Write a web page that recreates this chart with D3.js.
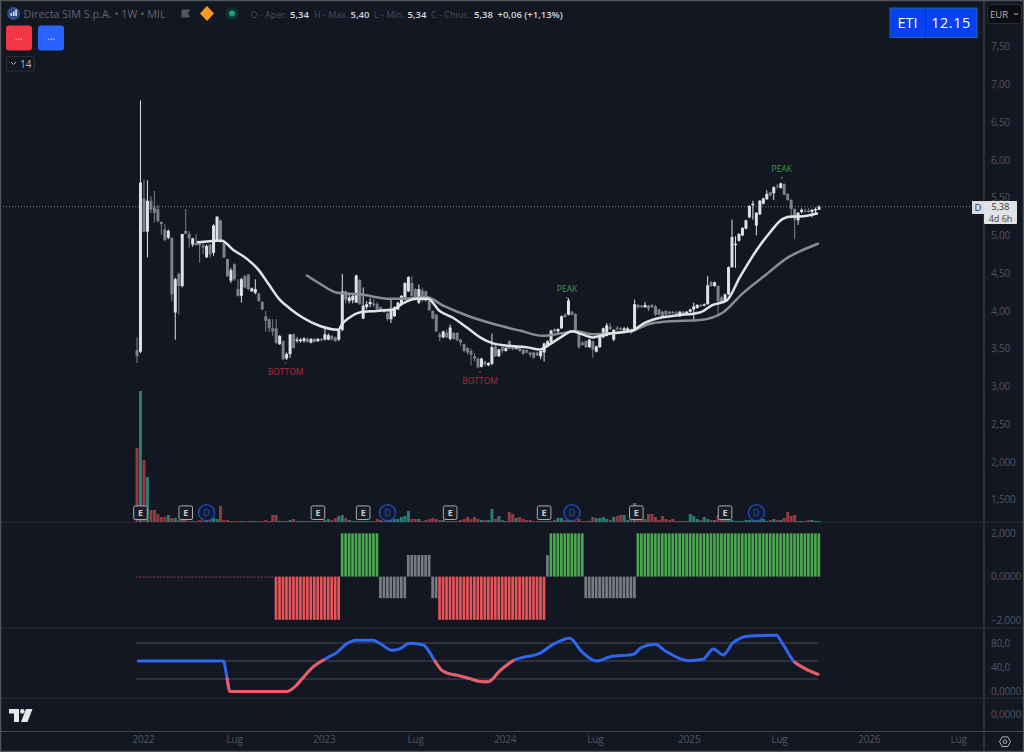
<!DOCTYPE html>
<html>
<head>
<meta charset="utf-8">
<title>Directa SIM S.p.A.</title>
<script src="https://cdn.jsdelivr.net/npm/d3@7"></script>
<style>
  html, body { margin: 0; padding: 0; background: #131722; }
  svg { display: block; }
  text { font-family: "Open Sans", "Noto Sans", sans-serif; }
  .axis path, .axis line { display: none; }
  .axis text { fill: #50545f; font-size: 10px; letter-spacing: -0.2px; font-family: "Open Sans", sans-serif; }
</style>
</head>
<body>
<div id="my_dataviz"></div>
<script>
  // weekly candles, one value per week from the first bar
  var opens = [
    3.48,3.46,5.49,5.05,5.46,5.37,5.35,5.18,5.08,4.97,
    4.97,3.98,4.49,4.33,5.06,5.02,4.88,4.90,4.90,4.87,
    4.71,4.88,4.77,4.93,5.20,4.90,4.69,4.40,4.62,4.29,
    4.20,4.46,4.48,4.26,4.24,4.23,4.12,3.93,3.89,3.77,
    3.77,3.56,3.60,3.37,3.43,3.69,3.60,3.60,3.60,3.63,
    3.58,3.63,3.60,3.63,3.62,3.62,3.67,3.65,3.62,3.75,
    4.26,4.13,4.14,4.11,4.41,3.90,4.05,4.09,4.10,4.09,
    4.05,4.00,3.97,3.89,3.93,4.02,4.09,4.18,4.26,4.37,
    4.29,4.11,4.27,4.26,4.13,4.00,3.95,3.69,3.65,3.71,
    3.63,3.71,3.71,3.62,3.56,3.51,3.47,3.40,3.37,3.26,
    3.33,3.28,3.30,3.53,3.40,3.52,3.47,3.60,3.53,3.50,
    3.51,3.49,3.48,3.45,3.45,3.45,3.40,3.45,3.53,3.59,
    3.76,3.73,3.77,3.95,3.95,3.99,3.96,3.69,3.58,3.60,
    3.52,3.60,3.46,3.52,3.65,3.67,3.79,3.62,3.78,3.77,
    3.74,3.74,3.76,3.76,4.08,4.07,4.05,4.07,4.08,4.06,
    4.02,3.99,4.00,3.99,3.99,3.98,3.93,3.99,3.96,3.99,
    4.02,4.04,4.08,4.07,4.09,4.38,4.33,4.33,4.18,4.13,
    4.22,4.58,4.87,4.93,5.00,5.09,5.24,5.40,5.13,5.28,
    5.42,5.48,5.57,5.56,5.66,5.63,5.68,5.55,5.47,5.35,
    5.20,5.31,5.33,5.33,5.31,5.33,5.34
  ];
  var highs = [
    3.65,6.79,5.74,5.73,5.52,5.59,5.41,5.18,5.15,5.08,
    4.97,4.44,4.51,5.02,5.35,5.06,4.97,5.02,4.92,4.90,
    4.88,4.89,5.15,5.25,5.21,4.93,4.69,4.57,4.63,4.42,
    4.44,4.48,4.49,4.31,4.42,4.24,4.13,4.00,3.90,3.89,
    3.89,3.68,3.61,3.45,3.69,3.70,3.65,3.64,3.65,3.65,
    3.64,3.64,3.64,3.64,3.76,3.70,3.68,3.66,3.76,4.49,
    4.27,4.22,4.24,4.48,4.42,4.31,4.13,4.17,4.16,4.12,
    4.06,4.03,3.98,4.17,4.06,4.12,4.21,4.38,4.46,4.46,
    4.30,4.35,4.31,4.27,4.15,4.01,3.96,3.72,3.74,3.75,
    3.82,3.72,3.72,3.63,3.57,3.52,3.50,3.44,3.38,3.38,
    3.34,3.32,3.70,3.55,3.50,3.53,3.52,3.61,3.54,3.54,
    3.52,3.50,3.49,3.46,3.46,3.46,3.47,3.58,3.61,3.75,
    3.77,3.77,3.94,3.97,4.17,4.00,3.97,3.72,3.60,3.61,
    3.63,3.61,3.54,3.68,3.78,3.84,3.84,3.76,3.80,3.79,
    3.79,3.79,3.77,4.15,4.09,4.08,4.12,4.08,4.09,4.08,
    4.03,4.00,4.01,4.00,4.00,4.00,4.00,4.00,4.00,4.03,
    4.11,4.09,4.09,4.10,4.46,4.40,4.39,4.34,4.20,4.23,
    4.59,5.21,4.99,5.03,5.11,5.21,5.40,5.46,5.31,5.47,
    5.50,5.60,5.58,5.65,5.68,5.70,5.69,5.56,5.48,5.36,
    5.31,5.36,5.36,5.36,5.35,5.37,5.40
  ];
  var lows = [
    3.31,3.44,5.04,4.71,5.30,5.17,5.17,5.01,4.92,4.95,
    4.13,3.62,3.95,4.31,5.02,4.84,4.85,4.87,4.64,4.75,
    4.70,4.71,4.73,4.92,4.90,4.70,4.45,4.37,4.40,4.19,
    4.11,4.30,4.27,4.25,4.22,4.12,4.01,3.73,3.72,3.67,
    3.56,3.55,3.35,3.35,3.38,3.50,3.58,3.58,3.58,3.58,
    3.57,3.58,3.59,3.60,3.61,3.61,3.61,3.59,3.60,3.73,
    4.10,4.10,4.10,4.11,4.08,3.89,4.02,4.05,4.05,4.00,
    4.00,3.98,3.87,3.84,3.92,4.01,4.08,4.17,4.25,4.18,
    4.17,4.09,4.12,4.12,4.00,3.89,3.72,3.60,3.64,3.64,
    3.61,3.62,3.60,3.54,3.45,3.42,3.28,3.33,3.24,3.25,
    3.27,3.27,3.28,3.39,3.39,3.44,3.46,3.49,3.48,3.49,
    3.46,3.42,3.44,3.39,3.37,3.40,3.36,3.33,3.52,3.58,
    3.72,3.70,3.76,3.91,3.94,3.94,3.72,3.50,3.54,3.51,
    3.51,3.38,3.45,3.51,3.64,3.66,3.75,3.60,3.74,3.74,
    3.73,3.73,3.69,3.73,4.03,4.04,4.04,4.00,4.04,3.93,
    3.94,3.92,3.94,3.95,3.96,3.95,3.92,3.95,3.95,3.98,
    3.86,4.03,4.05,4.06,4.08,4.32,4.32,3.95,4.10,4.12,
    4.21,4.57,4.57,4.92,4.99,5.08,5.23,5.21,5.00,5.27,
    5.41,5.47,5.52,5.47,5.62,5.62,5.53,5.46,5.22,4.95,
    5.14,5.29,5.30,5.30,5.24,5.28,5.34
  ];
  var closes = [
    3.40,5.70,5.05,5.46,5.34,5.30,5.19,5.15,4.94,5.06,
    4.22,4.42,4.33,5.02,5.02,4.96,4.96,4.87,4.87,4.84,
    4.86,4.75,5.13,5.25,4.93,4.71,4.46,4.54,4.42,4.20,
    4.42,4.31,4.29,4.30,4.29,4.13,4.02,3.87,3.77,3.73,
    3.58,3.67,3.36,3.43,3.69,3.51,3.62,3.62,3.64,3.59,
    3.63,3.59,3.63,3.61,3.69,3.68,3.62,3.60,3.75,4.26,
    4.15,4.18,4.20,4.47,4.09,4.07,4.09,4.12,4.08,4.02,
    4.01,4.02,3.89,4.02,4.05,4.11,4.20,4.37,4.45,4.20,
    4.18,4.29,4.14,4.13,4.01,3.90,3.73,3.65,3.73,3.65,
    3.78,3.63,3.61,3.58,3.47,3.45,3.42,3.37,3.25,3.37,
    3.29,3.31,3.52,3.40,3.49,3.47,3.51,3.50,3.49,3.53,
    3.47,3.43,3.45,3.42,3.38,3.41,3.47,3.57,3.60,3.74,
    3.73,3.76,3.93,3.92,4.14,3.95,3.73,3.52,3.55,3.52,
    3.62,3.49,3.53,3.67,3.77,3.81,3.76,3.75,3.76,3.75,
    3.77,3.77,3.71,4.09,4.05,4.05,4.08,4.03,4.05,3.95,
    3.95,3.93,3.95,3.96,3.97,3.96,3.99,3.96,3.99,4.02,
    4.06,4.08,4.06,4.09,4.34,4.33,4.38,4.13,4.11,4.22,
    4.58,4.98,4.89,5.02,5.10,5.20,5.39,5.42,5.30,5.46,
    5.49,5.55,5.53,5.64,5.65,5.69,5.54,5.47,5.35,5.21,
    5.30,5.34,5.32,5.31,5.34,5.35,5.38
  ];
  var volumes = [
    74,131,62,45,12,12,8,5,5,7,
    4,4,2,2,2,1,1,1,2,1,
    1,3,4,3,16,2,2,1,1,1,
    1,1,1,1,1,1,1,2,1,7,
    7,1,1,1,2,3,1,1,1,1,
    1,1,1,1,2,3,2,4,6,7,
    4,2,1,1,1,1,1,1,1,3,
    2,1,1,2,3,3,5,6,11,3,
    3,3,1,2,3,4,3,2,2,1,
    1,1,1,2,3,5,3,5,3,2,
    2,2,13,3,6,2,1,10,8,4,
    5,3,2,2,1,1,1,1,1,1,
    2,4,4,2,2,2,1,3,1,1,
    1,5,4,4,5,3,2,5,6,7,
    7,2,2,19,5,5,3,8,8,5,
    2,6,3,2,3,1,1,1,1,8,
    6,3,2,5,3,2,2,7,2,2,
    2,2,1,1,1,2,2,2,2,3,
    3,1,2,3,2,2,4,10,6,7,
    1,1,1,2,2,1,1
  ];

  // moving averages, week and price
  var fastWeeks = [17.5,20,22.4,24.4,27.6,31.6,34.8,37.6,41,44,47.7,52.6,57.8,59,61,64,69,73.6,76.4,80.4,83.6,87,90.8,94.8,98.6,102.3,106.3,112,115.8,118.7,122.4,125,127.3,131,133,136,142.5,145.4,149.4,155,161.8,165.5,169.5,173.3,178,181.9,185.6,188.2,190.5,195.4];
  var fastValues = [4.91,4.92,4.93,4.93,4.81,4.69,4.55,4.37,4.15,4.03,3.91,3.80,3.75,3.83,3.91,3.98,4.00,4.02,4.10,4.16,4.16,4.00,3.91,3.78,3.65,3.57,3.54,3.52,3.49,3.56,3.67,3.73,3.70,3.65,3.67,3.70,3.74,3.83,3.90,3.94,3.98,4.08,4.14,4.45,4.80,5.04,5.22,5.25,5.25,5.29];
  var slowWeeks = [48.8,52.6,57.5,64,72.7,76.4,83.3,88,94.8,102.3,110,116.7,121.6,126.4,131,136,142.5,147.4,152.3,161.8,168.4,174,181,186.8,190.5,195.7];
  var slowValues = [4.47,4.36,4.24,4.22,4.16,4.16,4.18,4.07,3.94,3.83,3.74,3.67,3.70,3.73,3.69,3.70,3.74,3.83,3.86,3.88,3.98,4.23,4.49,4.70,4.79,4.89];

  // histogram pane, level and how many weeks it holds
  var histLevels = [0,-2,2,-1,1,-1,-2,1,2,-1,2];
  var histRuns = [40,19,11,8,7,2,31,1,10,15,53];

  // oscillator pane
  var oscWeeks = [0.4,24.8,25.9,26.7,43,45.9,47.3,50.7,53.6,55.5,57.4,59.8,63,67.9,69.8,73.2,75.1,78.5,82.3,85.6,87.5,89.4,92.2,95.7,98.6,101,104.3,108.1,110.5,115.4,119.7,124.4,127.8,132,136,142.6,145,148.9,151.7,158.4,162.7,165.6,168.5,171.3,176.1,183.8,185.2,189,192.4,195.7];
  var oscValues = [50,50,21,-1,-1,10,19.4,40.6,51.7,58,64,76.7,84.4,84.4,79.4,68,69.4,79.4,76.7,50,35,29.4,26,20.6,16,15.6,33.9,50.6,55.6,61.7,78,87.8,65.6,50,57,61,72.8,77.8,67.2,50.6,52.8,70,60,80.5,91.7,92.8,82,47.8,36,27.8];
  var oscBelow = [[25.9,53.6],[85.6,108.1],[189,195.7]];
  var oscLevels = [80,50,20];

  // axis ticks
  var priceTicks = [7.5,7,6.5,6,5.5,5,4.5,4,3.5,3,2.5,2,1.5];
  var priceLabels = ["7,50","7,00","6,50","6,00","5,50","5,00","4,50","4,00","3,50","3,00","2,50","2,000","1,500"];
  var histTicks = [2,0,-2];
  var histLabels = ["2,000","0,0000","\u22122,000"];
  var oscTicks = [80,40,0];
  var oscLabels = ["80,0","40,0","0,0000"];
  var timeWeeks = [1.7,27.9,53.7,79.9,105.7,131.6,158.6,184.5,210.3,236];
  var timeLabels = ["2022","Lug","2023","Lug","2024","Lug","2025","Lug","2026","Lug"];

  // events on the volume pane
  var earningsWeeks = [1,14,52,65,90,117,143.5,169];
  var dividendWeeks = [20,72,125,178];

  // text signals over the candles
  var signalWeeks = [42.7,98.6,123.6,185.3];
  var signalPrices = [3.19,3.07,4.29,5.88];
  var signalTexts = ["BOTTOM","BOTTOM","PEAK","PEAK"];

  var width = 1024, height = 752;
  var axisX = 984;

  var svg = d3.select("#my_dataviz")
    .append("svg")
      .attr("width", width)
      .attr("height", height);

  svg.append("rect")
    .attr("width", width)
    .attr("height", height)
    .attr("fill", "#131722");

  var x = d3.scaleLinear().domain([0, 196]).range([137, 819]);
  var yPrice = d3.scaleLinear().domain([1.5, 7.5]).range([499.7, 46.7]);
  var yVol = d3.scaleLinear().domain([0, 131]).range([522, 391]);
  var yHist = d3.scaleLinear().domain([-2, 2]).range([619.8, 533.4]);
  var yOsc = d3.scaleLinear().domain([0, 80]).range([691, 643]);

  var weeks = d3.range(opens.length);

  // pane separators
  var separators = [[522, "#2a2e39"], [628, "#2a2e39"], [698, "#2a2e39"], [731.5, "#43464f"]];
  svg.selectAll(".sep")
    .data(separators)
    .enter().append("line")
      .attr("x1", 0).attr("x2", width)
      .attr("y1", function(d) { return d[0]; })
      .attr("y2", function(d) { return d[0]; })
      .attr("stroke", function(d) { return d[1]; });

  // last price line
  svg.append("line")
    .attr("x1", 0).attr("x2", axisX)
    .attr("y1", yPrice(5.38)).attr("y2", yPrice(5.38))
    .attr("stroke", "#9a9ca3")
    .attr("stroke-width", 0.8)
    .attr("stroke-dasharray", "1 2");

  // volume bars
  svg.selectAll(".vol")
    .data(weeks)
    .enter().append("rect")
      .attr("class", "vol")
      .attr("x", function(i) { return x(i) - 1.5; })
      .attr("y", function(i) { return yVol(volumes[i]); })
      .attr("width", 3)
      .attr("height", function(i) { return yVol(0) - yVol(volumes[i]); })
      .attr("fill", function(i) { return closes[i] >= opens[i] ? "#2b7a73" : "#8f3b41"; });

  // candles
  function candleColor(i) { return closes[i] >= opens[i] ? "#e0e1e4" : "#7d808a"; }

  svg.selectAll(".wick")
    .data(weeks)
    .enter().append("line")
      .attr("class", "wick")
      .attr("x1", function(i) { return x(i); })
      .attr("x2", function(i) { return x(i); })
      .attr("y1", function(i) { return yPrice(highs[i]); })
      .attr("y2", function(i) { return yPrice(lows[i]); })
      .attr("stroke", candleColor)
      .attr("stroke-width", 1);

  svg.selectAll(".body")
    .data(weeks)
    .enter().append("rect")
      .attr("class", "body")
      .attr("x", function(i) { return x(i) - 1.5; })
      .attr("y", function(i) { return yPrice(Math.max(opens[i], closes[i])); })
      .attr("width", 3)
      .attr("height", function(i) { return Math.max(1, Math.abs(yPrice(opens[i]) - yPrice(closes[i]))); })
      .attr("fill", candleColor);

  // moving averages
  var maLine = d3.line()
    .x(function(d) { return x(d[0]); })
    .y(function(d) { return yPrice(d[1]); })
    .curve(d3.curveMonotoneX);

  svg.append("path")
    .attr("d", maLine(d3.zip(slowWeeks, slowValues)))
    .attr("fill", "none")
    .attr("stroke", "#8b8c90")
    .attr("stroke-width", 2.5)
    .attr("stroke-linecap", "round");

  svg.append("path")
    .attr("d", maLine(d3.zip(fastWeeks, fastValues)))
    .attr("fill", "none")
    .attr("stroke", "#e2e3e5")
    .attr("stroke-width", 2.5)
    .attr("stroke-linecap", "round");

  // signals
  var signals = d3.zip(signalWeeks, signalPrices, signalTexts);
  svg.selectAll(".signal")
    .data(signals)
    .enter().append("text")
      .attr("x", function(d) { return x(d[0]); })
      .attr("y", function(d) { return yPrice(d[1]); })
      .attr("dy", "0.35em")
      .attr("text-anchor", "middle")
      .attr("font-size", 8.5)
      .attr("fill", function(d) { return d[2] == "PEAK" ? "#3f9a4c" : "#b3283a"; })
      .text(function(d) { return d[2]; });

  svg.selectAll(".signal-mark")
    .data(signals)
    .enter().append("rect")
      .attr("x", function(d) { return x(d[0]) - 0.8; })
      .attr("y", function(d) { return yPrice(d[1]) + (d[2] == "PEAK" ? 8 : -10); })
      .attr("width", 1.6)
      .attr("height", 1.6)
      .attr("fill", function(d) { return d[2] == "PEAK" ? "#3f9a4c" : "#b3283a"; });

  // earnings and dividend markers
  var earn = svg.selectAll(".earn")
    .data(earningsWeeks)
    .enter().append("g")
      .attr("transform", function(d) { return "translate(" + x(d) + ",512.7)"; });
  earn.append("rect")
    .attr("x", -6.8).attr("y", -6.8)
    .attr("width", 13.6).attr("height", 13.6)
    .attr("rx", 1.5)
    .attr("fill", "#1a1d26")
    .attr("stroke", "#a9abb1");
  earn.append("text")
    .attr("text-anchor", "middle")
    .attr("dy", "0.36em")
    .attr("font-size", 9)
    .attr("font-weight", 700)
    .attr("fill", "#c9cbd1")
    .text("E");

  var divi = svg.selectAll(".divi")
    .data(dividendWeeks)
    .enter().append("g")
      .attr("transform", function(d) { return "translate(" + x(d) + ",512.7)"; });
  divi.append("circle")
    .attr("r", 8)
    .attr("fill", "#131a2e")
    .attr("stroke", "#2050c8")
    .attr("stroke-width", 1.2);
  divi.append("text")
    .attr("text-anchor", "middle")
    .attr("dy", "0.36em")
    .attr("font-size", 9)
    .attr("fill", "#2050c8")
    .text("D");

  // histogram pane
  var histValues = d3.merge(histLevels.map(function(d, i) { return d3.range(histRuns[i]).map(function() { return d; }); }));
  function histColor(v) {
    if (v == 2) return "#4aa84e";
    if (v == -2) return "#e55559";
    if (v == 0) return "#8d3f4a";
    return "#787b86";
  }
  svg.selectAll(".hist")
    .data(histValues)
    .enter().append("rect")
      .attr("class", "hist")
      .attr("x", function(d, i) { return x(i) - 1.5; })
      .attr("y", function(d) { return yHist(Math.max(d, 0)); })
      .attr("width", function(d) { return d == 0 ? 2 : 2.7; })
      .attr("height", function(d) { return d == 0 ? 1 : Math.abs(yHist(d) - yHist(0)); })
      .attr("fill", histColor);

  // oscillator pane
  svg.selectAll(".level")
    .data(oscLevels)
    .enter().append("line")
      .attr("x1", x(0) - 1).attr("x2", x(196) - 1)
      .attr("y1", function(d) { return yOsc(d); })
      .attr("y2", function(d) { return yOsc(d); })
      .attr("stroke", "#4a4d56");

  var oscLine = d3.line()
    .x(function(d) { return x(d[0]); })
    .y(function(d) { return yOsc(d[1]); })
    .curve(d3.curveMonotoneX);

  var oscPoints = d3.zip(oscWeeks, oscValues);
  svg.append("path")
    .attr("d", oscLine(oscPoints))
    .attr("fill", "none")
    .attr("stroke", "#2e66ee")
    .attr("stroke-width", 3)
    .attr("stroke-linecap", "round");

  // repaint the stretches that sit in the lower state
  oscBelow.forEach(function(r) {
    svg.append("path")
      .attr("d", oscLine(oscPoints.filter(function(d) { return d[0] >= r[0] && d[0] <= r[1]; })))
      .attr("fill", "none")
      .attr("stroke", "#ee5a5e")
      .attr("stroke-width", 3)
      .attr("stroke-linecap", "round");
  });

  // right hand axes
  svg.append("line")
    .attr("x1", axisX).attr("x2", axisX)
    .attr("y1", 0).attr("y2", height)
    .attr("stroke", "#4a4d56");

  svg.append("g")
    .attr("class", "axis")
    .attr("transform", "translate(" + axisX + ",0)")
    .call(d3.axisRight(yPrice).tickValues(priceTicks).tickSize(0).tickPadding(7)
      .tickFormat(function(d, i) { return priceLabels[i]; }));

  svg.append("g")
    .attr("class", "axis")
    .attr("transform", "translate(" + axisX + ",0)")
    .call(d3.axisRight(yHist).tickValues(histTicks).tickSize(0).tickPadding(7)
      .tickFormat(function(d, i) { return histLabels[i]; }));

  svg.append("g")
    .attr("class", "axis")
    .attr("transform", "translate(" + axisX + ",0)")
    .call(d3.axisRight(yOsc).tickValues(oscTicks).tickSize(0).tickPadding(7)
      .tickFormat(function(d, i) { return oscLabels[i]; }));

  svg.append("text")
    .attr("x", axisX + 7).attr("y", 715)
    .attr("dy", "0.32em")
    .attr("font-size", 10)
    .attr("letter-spacing", -0.2)
    .attr("fill", "#50545f")
    .text("0,0000");

  // time axis
  svg.append("g")
    .attr("class", "axis")
    .attr("transform", "translate(0,732)")
    .call(d3.axisBottom(x).tickValues(timeWeeks).tickSize(0).tickPadding(4)
      .tickFormat(function(d, i) { return timeLabels[i]; }));

  // last price tag
  var tag = svg.append("g");
  tag.append("rect").attr("x", 972).attr("y", 201).attr("width", 12).attr("height", 13).attr("fill", "#d9dbe0");
  tag.append("rect").attr("x", axisX).attr("y", 201).attr("width", 33).attr("height", 23).attr("rx", 1).attr("fill", "#e0e2e6");
  tag.append("text").attr("x", 978).attr("y", 211).attr("text-anchor", "middle").attr("font-size", 9.5).attr("fill", "#333").text("D");
  tag.append("text").attr("x", 1000.5).attr("y", 209.5).attr("text-anchor", "middle").attr("font-size", 9).attr("fill", "#333").text("5,38");
  tag.append("text").attr("x", 1000.5).attr("y", 222).attr("text-anchor", "middle").attr("font-size", 9).attr("fill", "#444").text("4d 6h");

  // currency box
  svg.append("rect").attr("x", 987.5).attr("y", 4.5).attr("width", 34).attr("height", 19).attr("rx", 3)
    .attr("fill", "#0c0d11").attr("stroke", "#2a2d35");
  svg.append("text").attr("x", 990).attr("y", 18).attr("font-size", 9.5).attr("fill", "#b2b5be").text("EUR");
  svg.append("path").attr("d", "M1014 13l2 2l2-2").attr("fill", "none").attr("stroke", "#b2b5be");

  // ETI box
  svg.append("rect").attr("x", 890).attr("y", 8).attr("width", 87).attr("height", 29.5)
    .attr("fill", "#0540f2").attr("stroke", "#1c6a9c");
  svg.append("line").attr("x1", 925.5).attr("x2", 925.5).attr("y1", 8).attr("y2", 37.5).attr("stroke", "#0a2fa8");
  svg.append("text").attr("x", 907.5).attr("y", 28).attr("text-anchor", "middle").attr("font-size", 14.5).attr("fill", "#fff").text("ETI");
  svg.append("text").attr("x", 951).attr("y", 28).attr("text-anchor", "middle").attr("font-size", 14.5).attr("letter-spacing", 0.5).attr("fill", "#fff").text("12.15");

  // header row
  svg.append("circle").attr("cx", 13.5).attr("cy", 13.5).attr("r", 6.5).attr("fill", "#2d4f86");
  svg.append("path").attr("d", "M10.5 13h1.6v3h-1.6zM13 11.5h1.6v4.5H13zM15.3 9.5h1.6v6.5h-1.6z").attr("fill", "#d8dce6");
  svg.append("text").attr("x", 23.5).attr("y", 17.5).attr("font-size", 10.8).attr("fill", "#5f6370").text("Directa SIM S.p.A. \u2022 1W \u2022 MIL");
  svg.append("path").attr("d", "M181.5 9.5h9l-2.6 4l2.6 4h-9z").attr("fill", "#53565f");
  svg.append("path").attr("d", "M207 6l7 7.5l-7 7.5l-7-7.5z").attr("fill", "#f59a23");
  svg.append("circle").attr("cx", 232).attr("cy", 13.5).attr("r", 6.5).attr("fill", "#10312f");
  svg.append("circle").attr("cx", 232).attr("cy", 13.5).attr("r", 3).attr("fill", "#16a085");

  var legendDim = [[250.5, "O - Aper."], [314, "H - Max."], [374, "L - Min."], [431, "C - Chius."]];
  svg.selectAll(".legend-dim")
    .data(legendDim)
    .enter().append("text")
      .attr("x", function(d) { return d[0]; })
      .attr("y", 17.5)
      .attr("font-size", 9)
      .attr("fill", "#4a4e5a")
      .text(function(d) { return d[1]; });
  var legendVal = [[290, "5,34"], [350.5, "5,40"], [407.5, "5,34"], [474, "5,38"], [497.5, "+0,06 (+1,13%)"]];
  svg.selectAll(".legend-val")
    .data(legendVal)
    .enter().append("text")
      .attr("x", function(d) { return d[0]; })
      .attr("y", 17.5)
      .attr("font-size", 9.5)
      .attr("font-weight", 600)
      .attr("fill", "#d5d7dc")
      .text(function(d) { return d[1]; });

  // the two indicator buttons and the collapsed count
  var buttons = [[6, "#f23645"], [38, "#2962ff"]];
  svg.selectAll(".btn")
    .data(buttons)
    .enter().append("rect")
      .attr("x", function(d) { return d[0]; })
      .attr("y", 25.5)
      .attr("width", 26)
      .attr("height", 25)
      .attr("rx", 3)
      .attr("fill", function(d) { return d[1]; });
  svg.selectAll(".btn-text")
    .data(buttons)
    .enter().append("text")
      .attr("x", function(d) { return d[0] + 13; })
      .attr("y", 40)
      .attr("text-anchor", "middle")
      .attr("font-size", 10)
      .attr("fill", "#f5d5d8")
      .text("...");
  svg.append("rect").attr("x", 6.5).attr("y", 56.5).attr("width", 28).attr("height", 14.5).attr("rx", 1.5)
    .attr("fill", "none").attr("stroke", "#2a2e39");
  svg.append("path").attr("d", "M11 62l2.5 2.5l2.5-2.5").attr("fill", "none").attr("stroke", "#b2b5be");
  svg.append("text").attr("x", 20).attr("y", 67.5).attr("font-size", 10).attr("fill", "#b2b5be").text("14");

  // chart provider logo
  svg.append("path")
    .attr("d", "M9 709h10v13h-5v-8.5h-5zM26 709h6.5l-5 13h-6.5z")
    .attr("fill", "#e6e7ea");
  svg.append("circle").attr("cx", 22.3).attr("cy", 711.4).attr("r", 2.3).attr("fill", "#e6e7ea");

  // settings icon
  svg.append("path")
    .attr("d", "M999.5 741.7l2.7-4.8h5.6l2.7 4.8l-2.7 4.8h-5.6z")
    .attr("fill", "none").attr("stroke", "#b2b5be");
  svg.append("circle").attr("cx", 1005).attr("cy", 741.7).attr("r", 1.8).attr("fill", "none").attr("stroke", "#b2b5be");

  // screenshot frame
  svg.append("rect")
    .attr("x", 0.5).attr("y", 0.5)
    .attr("width", width - 1).attr("height", height - 1)
    .attr("fill", "none")
    .attr("stroke", "#50535a")
    .attr("stroke-width", 1.5);
</script>
</body>
</html>
